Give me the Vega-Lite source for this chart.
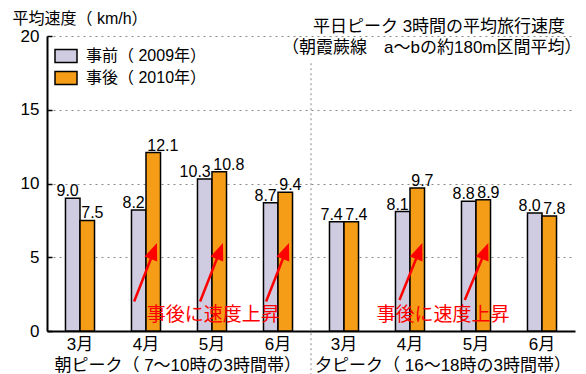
{
  "$schema": "https://vega.github.io/schema/vega-lite/v6.json",
  "width": 528,
  "height": 295,
  "autosize": "none",
  "padding": {"left": 47, "top": 36, "right": 11, "bottom": 43},
  "config": {
    "view": {"stroke": null},
    "font": "Liberation Sans, Noto Sans CJK JP",
    "text": {"font": "Liberation Sans, Noto Sans CJK JP", "color": "#000000"}
  },
  "datasets": {
    "speeds": [
      {"slot": "朝3月", "series": "事前（ 2009年）", "speed": 9.0},
      {"slot": "朝3月", "series": "事後（ 2010年）", "speed": 7.5},
      {"slot": "朝4月", "series": "事前（ 2009年）", "speed": 8.2},
      {"slot": "朝4月", "series": "事後（ 2010年）", "speed": 12.1},
      {"slot": "朝5月", "series": "事前（ 2009年）", "speed": 10.3},
      {"slot": "朝5月", "series": "事後（ 2010年）", "speed": 10.8},
      {"slot": "朝6月", "series": "事前（ 2009年）", "speed": 8.7},
      {"slot": "朝6月", "series": "事後（ 2010年）", "speed": 9.4},
      {"slot": "夕3月", "series": "事前（ 2009年）", "speed": 7.4},
      {"slot": "夕3月", "series": "事後（ 2010年）", "speed": 7.4},
      {"slot": "夕4月", "series": "事前（ 2009年）", "speed": 8.1},
      {"slot": "夕4月", "series": "事後（ 2010年）", "speed": 9.7},
      {"slot": "夕5月", "series": "事前（ 2009年）", "speed": 8.8},
      {"slot": "夕5月", "series": "事後（ 2010年）", "speed": 8.9},
      {"slot": "夕6月", "series": "事前（ 2009年）", "speed": 8.0},
      {"slot": "夕6月", "series": "事後（ 2010年）", "speed": 7.8}
    ],
    "arrows": [
      {"x1": 1.32, "y1": 2.0, "x2": 1.62, "y2": 5.42},
      {"x1": 2.32, "y1": 2.0, "x2": 2.62, "y2": 5.42},
      {"x1": 3.32, "y1": 2.0, "x2": 3.62, "y2": 5.42},
      {"x1": 5.34, "y1": 2.1, "x2": 5.64, "y2": 5.42},
      {"x1": 6.33, "y1": 2.1, "x2": 6.64, "y2": 5.42}
    ]
  },
  "layer": [
    {
      "data": {"name": "speeds"},
      "encoding": {
        "x": {
          "field": "slot",
          "type": "nominal",
          "sort": null,
          "scale": {"paddingInner": 0.56, "paddingOuter": 0.28},
          "axis": {
            "title": null,
            "labelExpr": "substring(datum.value, 1)",
            "labelAngle": 0,
            "ticks": false,
            "domainColor": "#000000",
            "domainWidth": 2,
            "labelFontSize": 17,
            "labelColor": "#000000",
            "labelPadding": 5
          }
        },
        "xOffset": {"field": "series", "type": "nominal", "sort": null, "scale": {"paddingInner": 0, "paddingOuter": 0}},
        "y": {
          "field": "speed",
          "type": "quantitative",
          "scale": {"domain": [0, 20], "nice": false},
          "axis": {
            "values": [0, 5, 10, 15, 20],
            "grid": true,
            "gridDash": [2, 4],
            "gridColor": "#888888",
            "gridWidth": 1,
            "domainColor": "#000000",
            "domainWidth": 2,
            "tickColor": "#000000",
            "tickSize": -5,
            "tickWidth": 1.5,
            "labelFontSize": 17,
            "labelColor": "#000000",
            "labelPadding": 13,
            "title": "平均速度（ km/h）",
            "titleAngle": 0,
            "titleAlign": "left",
            "titleBaseline": "middle",
            "titleX": -35,
            "titleY": -18,
            "titleFontSize": 16,
            "titleFontWeight": "normal",
            "titleColor": "#000000"
          }
        }
      },
      "layer": [
        {
          "mark": {"type": "bar", "stroke": "#000000", "strokeWidth": 1.5},
          "encoding": {
            "color": {
              "field": "series",
              "type": "nominal",
              "sort": null,
              "scale": {"domain": ["事前（ 2009年）", "事後（ 2010年）"], "range": ["#cfcce2", "#f59d16"]},
              "legend": {
                "orient": "none",
                "legendX": 7,
                "legendY": 8,
                "title": null,
                "padding": 0,
                "symbolType": "M-1,-0.59H1V0.59H-1Z",
                "symbolSize": 484,
                "symbolStrokeColor": "#000000",
                "symbolStrokeWidth": 1.5,
                "symbolOpacity": 1,
                "labelFontSize": 16,
                "labelColor": "#000000",
                "labelOffset": 8,
                "rowPadding": -1
              }
            }
          }
        },
        {
          "transform": [{"filter": "datum.series === '事前（ 2009年）'"}],
          "mark": {"type": "text", "align": "right", "baseline": "alphabetic", "dx": 6, "dy": -2, "fontSize": 16},
          "encoding": {"text": {"field": "speed", "type": "quantitative", "format": ".1f"}}
        },
        {
          "transform": [{"filter": "datum.series === '事後（ 2010年）'"}],
          "mark": {"type": "text", "align": "left", "baseline": "alphabetic", "dx": -6, "dy": -2, "fontSize": 16},
          "encoding": {"text": {"field": "speed", "type": "quantitative", "format": ".1f"}}
        }
      ]
    },
    {
      "layer": [
        {
          "data": {"values": [{}]},
          "mark": {"type": "rule", "color": "#888888", "strokeDash": [2, 3], "strokeWidth": 1},
          "encoding": {
            "x": {"datum": 4, "type": "quantitative", "scale": {"domain": [0, 8], "nice": false}, "axis": null},
            "y": {"datum": -3, "type": "quantitative", "scale": {"domain": [0, 20], "nice": false}},
            "y2": {"datum": 18.2}
          }
        },
        {
          "data": {"name": "arrows"},
          "mark": {"type": "rule", "color": "#ff0000", "strokeWidth": 2.5},
          "encoding": {
            "x": {"field": "x1", "type": "quantitative", "scale": {"domain": [0, 8], "nice": false}, "axis": null},
            "x2": {"field": "x2"},
            "y": {"field": "y1", "type": "quantitative", "scale": {"domain": [0, 20], "nice": false}},
            "y2": {"field": "y2"}
          }
        },
        {
          "data": {"name": "arrows"},
          "mark": {"type": "point", "shape": "M0,-1L0.8,1L-0.8,1Z", "size": 289, "filled": true, "color": "#ff0000", "opacity": 1, "angle": 21},
          "encoding": {
            "x": {"field": "x2", "type": "quantitative", "scale": {"domain": [0, 8], "nice": false}, "axis": null},
            "y": {"field": "y2", "type": "quantitative", "scale": {"domain": [0, 20], "nice": false}}
          }
        },
        {
          "data": {"values": [{}]},
          "mark": {"type": "text", "text": "事後に速度上昇", "fontSize": 19, "color": "#ff0000", "baseline": "middle", "align": "center"},
          "encoding": {
            "x": {"datum": 2.52, "type": "quantitative", "scale": {"domain": [0, 8], "nice": false}, "axis": null},
            "y": {"datum": 1.08, "type": "quantitative", "scale": {"domain": [0, 20], "nice": false}}
          }
        },
        {
          "data": {"values": [{}]},
          "mark": {"type": "text", "text": "事後に速度上昇", "fontSize": 19, "color": "#ff0000", "baseline": "middle", "align": "center"},
          "encoding": {
            "x": {"datum": 6.0, "type": "quantitative", "scale": {"domain": [0, 8], "nice": false}, "axis": null},
            "y": {"datum": 1.08, "type": "quantitative", "scale": {"domain": [0, 20], "nice": false}}
          }
        },
        {
          "data": {"values": [{}]},
          "mark": {"type": "text", "text": "朝ピーク（ 7〜10時の3時間帯）", "fontSize": 17, "baseline": "middle", "align": "center"},
          "encoding": {
            "x": {"datum": 1.98, "type": "quantitative", "scale": {"domain": [0, 8], "nice": false}, "axis": null},
            "y": {"datum": -2.35, "type": "quantitative", "scale": {"domain": [0, 20], "nice": false}}
          }
        },
        {
          "data": {"values": [{}]},
          "mark": {"type": "text", "text": "夕ピーク（ 16〜18時の3時間帯）", "fontSize": 17, "baseline": "middle", "align": "center"},
          "encoding": {
            "x": {"datum": 6.0, "type": "quantitative", "scale": {"domain": [0, 8], "nice": false}, "axis": null},
            "y": {"datum": -2.35, "type": "quantitative", "scale": {"domain": [0, 20], "nice": false}}
          }
        },
        {
          "data": {"values": [{}]},
          "mark": {"type": "text", "text": "平日ピーク 3時間の平均旅行速度", "fontSize": 17, "baseline": "middle", "align": "center"},
          "encoding": {
            "x": {"datum": 5.94, "type": "quantitative", "scale": {"domain": [0, 8], "nice": false}, "axis": null},
            "y": {"datum": 20.58, "type": "quantitative", "scale": {"domain": [0, 20], "nice": false}}
          }
        },
        {
          "data": {"values": [{}]},
          "mark": {"type": "text", "text": "（朝霞蕨線　a〜bの約180m区間平均）", "fontSize": 17, "baseline": "middle", "align": "center"},
          "encoding": {
            "x": {"datum": 5.83, "type": "quantitative", "scale": {"domain": [0, 8], "nice": false}, "axis": null},
            "y": {"datum": 19.22, "type": "quantitative", "scale": {"domain": [0, 20], "nice": false}}
          }
        }
      ]
    }
  ],
  "resolve": {"scale": {"x": "independent"}}
}
